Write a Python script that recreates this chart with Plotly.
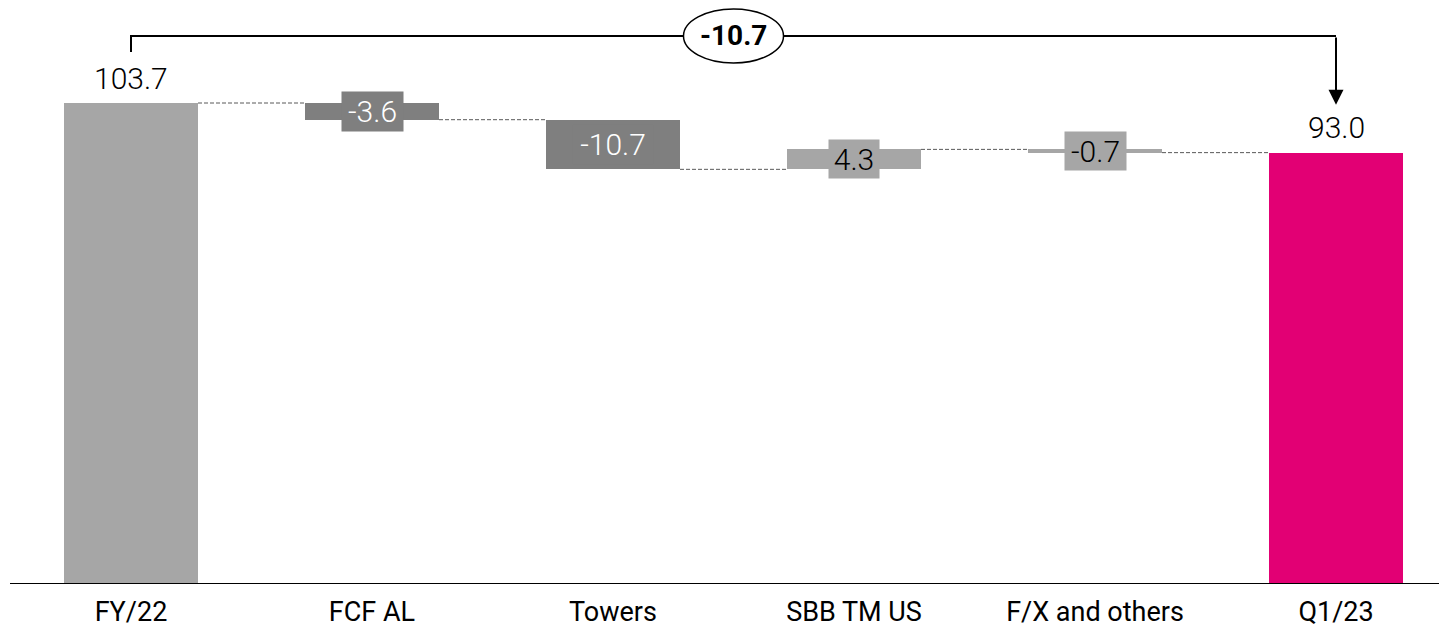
import plotly.graph_objects as go

# ---- data -------------------------------------------------------------
categories = ["FY/22", "FCF AL", "Towers", "SBB TM US", "F/X and others", "Q1/23"]
measures = ["absolute", "relative", "relative", "relative", "relative", "total"]
values = [103.7, -3.6, -10.7, 4.3, -0.7, 93.0]
net_change = -10.7

# ---- styles -----------------------------------------------------------
GREY_LIGHT = "#a6a6a6"
GREY_DARK = "#7f7f7f"
MAGENTA = "#e20074"
bar_colors = [GREY_LIGHT, GREY_DARK, GREY_DARK, GREY_LIGHT, GREY_LIGHT, MAGENTA]
label_text_colors = ["#000000", "#ffffff", "#ffffff", "#000000", "#000000", "#000000"]
label_box_sizes = [None, (57, 35), (76, 35), (46, 34), (57, 34), None]
FONT = "Roboto, Lato, sans-serif"
W, H = 1439, 629
BAR_WIDTH = 0.556

# ---- waterfall geometry from the values -------------------------------
bases, heights, levels = [], [], []
level = 0.0
for m, v in zip(measures, values):
    if m == "absolute":
        level = v
        bases.append(0.0)
        heights.append(v)
    elif m == "relative":
        prev = level
        level = round(level + v, 6)
        bases.append(min(prev, level))
        heights.append(abs(v))
    else:  # total
        level = v
        bases.append(0.0)
        heights.append(v)
    levels.append(level)

xs = list(range(len(categories)))

fig = go.Figure(
    go.Bar(
        x=xs,
        y=heights,
        base=bases,
        width=BAR_WIDTH,
        marker=dict(color=bar_colors, line=dict(width=0)),
        hoverinfo="skip",
        showlegend=False,
    )
)

shapes = []
annotations = []

# dashed connectors between consecutive bars
for i in range(len(xs) - 1):
    shapes.append(dict(
        type="line", xref="x", yref="y",
        x0=xs[i] + BAR_WIDTH / 2, x1=xs[i + 1] - BAR_WIDTH / 2,
        y0=levels[i], y1=levels[i],
        line=dict(color="#595959", width=1, dash="4px,2px"),
        layer="below",
    ))

# value labels
for i, (m, v) in enumerate(zip(measures, values)):
    if m in ("absolute", "total"):
        annotations.append(dict(
            x=xs[i], y=v, xref="x", yref="y", text=f"{v:.1f}",
            showarrow=False, yanchor="middle", yshift=25,
            font=dict(family=FONT, size=30, color="#000000", weight=300),
        ))
    else:
        w, h = label_box_sizes[i]
        annotations.append(dict(
            x=xs[i], y=bases[i] + heights[i] / 2, xref="x", yref="y",
            text=f"{v:.1f}", showarrow=False,
            xanchor="center", yanchor="middle",
            width=w, height=h, borderpad=2,
            bgcolor=bar_colors[i],
            font=dict(family=FONT, size=30, color=label_text_colors[i], weight=300),
        ))

# bracket showing the net change between first and last bar
BRACKET_Y = 118.15
LEFT_FOOT = 114.7
ARROW_TIP = 103.3
mid_x = (xs[0] + xs[-1]) / 2
shapes.append(dict(
    type="path", xref="x", yref="y",
    path=f"M {xs[0]},{LEFT_FOOT} L {xs[0]},{BRACKET_Y} L {xs[-1]},{BRACKET_Y}",
    line=dict(color="#000000", width=2),
))
annotations.append(dict(
    x=xs[-1], y=ARROW_TIP, ax=xs[-1], ay=BRACKET_Y,
    xref="x", yref="y", axref="x", ayref="y",
    text="", showarrow=True, arrowhead=2, arrowwidth=2, arrowsize=1.5,
    arrowcolor="#000000",
))
ell_w = 0.415
ell_h = 11.64
shapes.append(dict(
    type="circle", xref="x", yref="y",
    x0=mid_x - ell_w / 2, x1=mid_x + ell_w / 2,
    y0=BRACKET_Y - ell_h / 2, y1=BRACKET_Y + ell_h / 2,
    fillcolor="#ffffff", line=dict(color="#000000", width=1.5),
))
annotations.append(dict(
    x=mid_x, y=BRACKET_Y, xref="x", yref="y", text=f"<b>{net_change:.1f}</b>",
    showarrow=False, font=dict(family=FONT, size=28, color="#000000"),
))

# baseline axis line
shapes.append(dict(
    type="line", xref="paper", yref="y",
    x0=10 / W, x1=1, y0=0, y1=0,
    line=dict(color="#000000", width=2),
))

fig.update_layout(
    width=W, height=H,
    margin=dict(l=0, r=0, t=0, b=45),
    paper_bgcolor="#ffffff", plot_bgcolor="#ffffff",
    shapes=shapes, annotations=annotations,
    bargap=0,
    xaxis=dict(
        range=[-131 / 241, (W - 131) / 241],
        tickvals=xs, ticktext=categories,
        showgrid=False, zeroline=False, showline=False,
        ticks="", ticklabelstandoff=9,
        tickfont=dict(family=FONT, size=27, color="#000000"),
        fixedrange=True,
    ),
    yaxis=dict(
        range=[0, 584 / 4.6384],
        visible=False, fixedrange=True,
    ),
)

fig.write_html("out.html")
